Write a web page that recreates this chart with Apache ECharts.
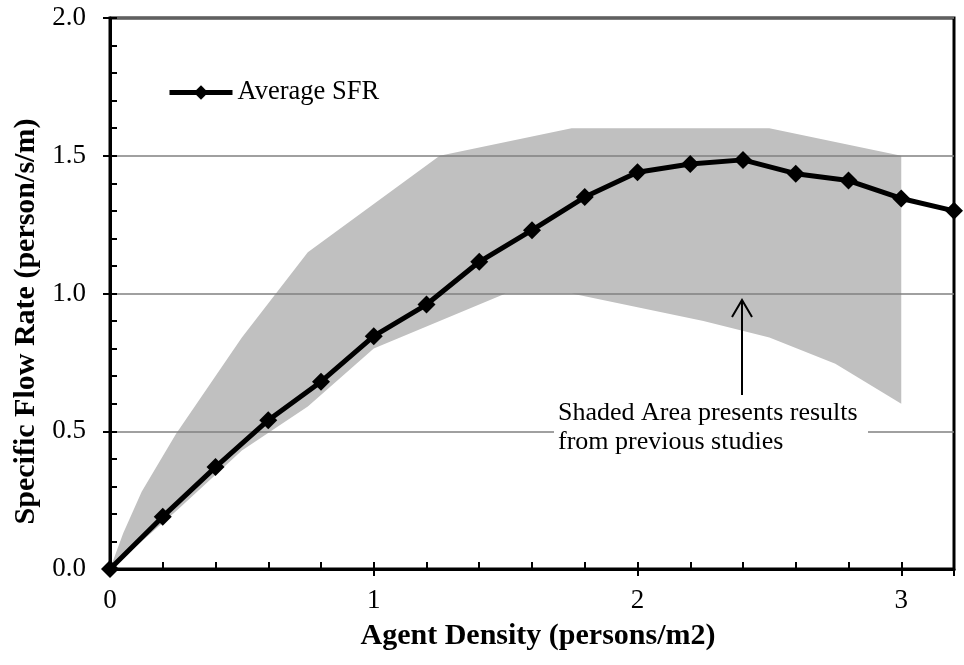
<!DOCTYPE html>
<html>
<head>
<meta charset="utf-8">
<script src="https://cdn.jsdelivr.net/npm/echarts@6/dist/echarts.min.js"></script>
<style>html,body{margin:0;padding:0;background:#fff}#c{width:964px;height:665px}</style>
</head>
<body>
<div id="c"></div>
<script>
// ---- data ----
const density = [0, 0.2, 0.4, 0.6, 0.8, 1.0, 1.2, 1.4, 1.6, 1.8, 2.0, 2.2, 2.4, 2.6, 2.8, 3.0, 3.2];
const avgSFR  = [0, 0.19, 0.37, 0.54, 0.68, 0.845, 0.96, 1.115, 1.23, 1.35, 1.44, 1.47, 1.485, 1.435, 1.41, 1.345, 1.30];
// shaded area from previous studies (upper boundary left->right, lower boundary right->left)
const upperX = [0, 0.05, 0.12, 0.25, 0.5, 0.75, 1.25, 1.75, 2.5, 3.0];
const upperY = [0, 0.13, 0.28, 0.49, 0.84, 1.15, 1.5, 1.6, 1.6, 1.5];
const lowerX = [3.0, 2.75, 2.5, 2.25, 1.75, 1.5, 1.0, 0.75, 0.5, 0.25, 0];
const lowerY = [0.6, 0.745, 0.84, 0.9, 1.0, 1.0, 0.8, 0.59, 0.43, 0.21, 0];
const xTickLabels = ['0', '1', '2', '3'];
const yTickLabels = ['0.0', '0.5', '1.0', '1.5', '2.0'];
const seriesName = 'Average SFR';
const noteText = 'Shaded Area presents results\nfrom previous studies';

const chart = echarts.init(document.getElementById('c'));
const serif = '"Liberation Serif", "Times New Roman", serif';

const polyPts = [];
upperX.forEach((x, i) => polyPts.push([x, upperY[i]]));
lowerX.forEach((x, i) => polyPts.push([x, lowerY[i]]));

const option = {
  animation: false,
  backgroundColor: '#fff',
  grid: { left: 110, right: 10, top: 18, bottom: 96, show: true, borderColor: '#000', borderWidth: 3, backgroundColor: 'transparent' },
  legend: {
    left: 162, top: 74, itemWidth: 63, itemHeight: 18,
    lineStyle: { width: 5 },
    textStyle: { fontFamily: serif, fontSize: 26.5, color: '#000' },
    data: [seriesName]
  },
  xAxis: [{
    type: 'value', min: 0, max: 3.2, interval: 0.2,
    axisLine: { lineStyle: { color: '#000', width: 3 } },
    axisTick: { inside: true, length: 7, lineStyle: { color: '#000', width: 2 } },
    splitLine: { show: false },
    axisLabel: {
      margin: 18, fontFamily: serif, fontSize: 27, color: '#000',
      formatter: v => { const r = Math.round(v); return Math.abs(v - r) < 1e-6 && xTickLabels[r] !== undefined ? xTickLabels[r] : ''; }
    },
    name: 'Agent Density (persons/m2)', nameLocation: 'middle', nameGap: 52,
    nameTextStyle: { fontFamily: serif, fontSize: 30, fontWeight: 'bold', color: '#000', padding: [0, 0, 0, 12] }
  }, {
    type: 'value', min: 0, max: 3.2, interval: 1, position: 'bottom',
    axisLine: { show: false },
    axisTick: { inside: false, length: 7, lineStyle: { color: '#000', width: 2 } },
    axisLabel: { show: false }, splitLine: { show: false }
  }],
  yAxis: [{
    type: 'value', min: 0, max: 2, interval: 0.5,
    axisLine: { lineStyle: { color: '#000', width: 3 } },
    axisTick: { inside: true, length: 7, lineStyle: { color: '#000', width: 2 } },
    minorTick: { show: true, splitNumber: 5, length: 7, lineStyle: { color: '#000', width: 2 } },
    splitLine: { show: true, lineStyle: { color: '#808080', width: 1.5 } },
    axisLabel: {
      margin: 24, fontFamily: serif, fontSize: 27, color: '#000',
      formatter: v => { const i = Math.round(v / 0.5); return yTickLabels[i] !== undefined ? yTickLabels[i] : ''; }
    },
    name: 'Specific Flow Rate (person/s/m)', nameLocation: 'middle', nameGap: 66,
    nameTextStyle: { fontFamily: serif, fontSize: 30, fontWeight: 'bold', color: '#000', padding: [0, 56, 0, 0] }
  }, {
    type: 'value', min: 0, max: 2, interval: 0.5, position: 'left',
    axisLine: { show: false },
    axisTick: { inside: false, length: 7, lineStyle: { color: '#000', width: 2 } },
    axisLabel: { show: false }, splitLine: { show: false }
  }],
  graphic: [
    { type: 'rect', z: 1, shape: { x: 554, y: 397, width: 314, height: 62 }, style: { fill: '#fff' } },
    { type: 'text', z: 1, x: 558, y: 399, style: { text: noteText, font: '26px ' + serif, fill: '#000', lineHeight: 29 } },
    { type: 'polyline', z: 1, shape: { points: [[742, 395], [742, 300]] }, style: { stroke: '#000', lineWidth: 2 } },
    { type: 'polyline', z: 1, shape: { points: [[732, 317], [742, 300], [752, 317]] }, style: { stroke: '#000', lineWidth: 2, fill: null } }
  ],
  series: [{
    type: 'custom', z: -1, silent: true,
    data: [0],
    renderItem: (params, api) => {
      const pts = polyPts.map(p => api.coord(p));
      return { type: 'polygon', shape: { points: pts }, style: { fill: '#c0c0c0' } };
    }
  }, {
    name: seriesName, type: 'line', z: 5, clip: false,
    data: density.map((x, i) => [x, avgSFR[i]]),
    symbol: 'diamond', symbolSize: 18,
    lineStyle: { color: '#000', width: 5 },
    itemStyle: { color: '#000' }
  }]
};
chart.setOption(option);
</script>
</body>
</html>
